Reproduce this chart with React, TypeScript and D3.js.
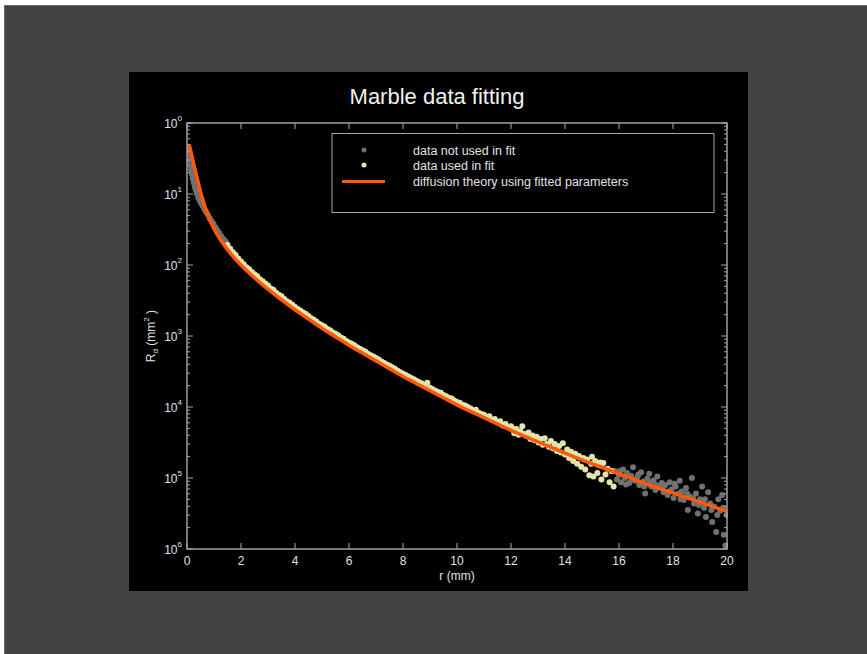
import React from "react";
import * as d3 from "d3";

// Radial distance (mm) and log10 of diffuse reflectance R_d (mm^-2)
const fitCurve: [number, number][] = [
  [0.08, -0.3], [0.2, -0.5], [0.3, -0.66], [0.4, -0.82], [0.5, -0.97], [0.6, -1.1],
  [0.7, -1.22], [0.8, -1.32], [0.9, -1.41], [1.0, -1.49], [1.2, -1.62], [1.4, -1.73],
  [1.6, -1.83], [1.8, -1.92], [2.0, -2.0], [2.5, -2.18], [3.0, -2.34], [3.5, -2.49],
  [4.0, -2.63], [4.5, -2.76], [5.0, -2.89], [5.5, -3.01], [6.0, -3.13], [6.5, -3.24],
  [7.0, -3.35], [7.5, -3.46], [8.0, -3.57], [8.5, -3.67], [9.0, -3.77], [9.5, -3.87],
  [10, -3.97], [11, -4.15], [12, -4.33], [13, -4.49], [14, -4.65], [15, -4.8],
  [16, -4.94], [17, -5.08], [18, -5.21], [19, -5.34], [20, -5.47],
];

const notUsedNear: [number, number][] = [
  [0.03, -0.36], [0.06, -0.44], [0.09, -0.52], [0.12, -0.6], [0.15, -0.66], [0.18, -0.72],
  [0.21, -0.78], [0.25, -0.84], [0.29, -0.9], [0.33, -0.95], [0.37, -1.0], [0.42, -1.05],
  [0.47, -1.09], [0.52, -1.13], [0.58, -1.17], [0.64, -1.21], [0.7, -1.25], [0.77, -1.29],
  [0.84, -1.34], [0.91, -1.38], [0.98, -1.42], [1.05, -1.47], [1.12, -1.51], [1.19, -1.55],
  [1.26, -1.59], [1.33, -1.63], [1.4, -1.66], [1.46, -1.69],
];

const notUsedFar: [number, number][] = [
  [15.85, -4.9], [15.92, -5.02], [16.0, -4.96], [16.08, -5.06], [16.15, -4.88], [16.22, -5.0],
  [16.3, -4.93], [16.38, -5.07], [16.45, -4.97], [16.52, -4.85], [16.6, -5.04], [16.68, -4.99],
  [16.75, -5.1], [16.82, -4.92], [16.9, -5.05], [16.97, -5.22], [17.05, -5.01], [17.12, -4.94],
  [17.2, -5.12], [17.28, -5.03], [17.35, -5.17], [17.42, -4.98], [17.5, -5.13], [17.58, -5.07],
  [17.65, -5.2], [17.72, -5.1], [17.8, -5.24], [17.88, -5.06], [17.95, -5.16], [18.02, -5.28],
  [18.1, -5.12], [18.18, -5.22], [18.25, -5.04], [18.32, -5.19], [18.4, -5.31], [18.48, -5.14],
  [18.55, -5.45], [18.62, -5.26], [18.7, -5.0], [18.78, -5.36], [18.85, -5.22], [18.92, -5.5],
  [19.0, -5.3], [19.08, -5.12], [19.15, -5.42], [19.22, -5.55], [19.3, -5.2], [19.38, -5.36],
  [19.45, -5.62], [19.52, -5.4], [19.6, -5.76], [19.68, -5.3], [19.75, -5.46], [19.82, -5.24],
  [19.88, -5.8], [19.94, -5.95], [19.98, -5.52],
  [16.04, -4.9], [16.26, -5.09], [16.48, -5.02], [16.72, -4.95], [16.94, -5.12], [17.16, -5.06],
  [17.38, -5.1], [17.62, -5.15], [17.84, -5.19], [18.06, -5.08], [18.28, -5.3], [18.52, -5.22],
  [18.74, -5.28], [18.96, -5.38], [19.18, -5.3], [19.42, -5.45], [19.64, -5.52], [19.86, -5.42],
];

const usedInFit: [number, number][] = [
  [1.5, -1.72], [1.6, -1.77], [1.7, -1.82], [1.8, -1.86], [1.9, -1.91], [2.0, -1.95],
  [2.1, -1.99], [2.2, -2.03], [2.3, -2.06], [2.4, -2.1], [2.5, -2.13], [2.6, -2.16],
  [2.7, -2.2], [2.8, -2.23], [2.9, -2.26], [3.0, -2.29], [3.1, -2.33], [3.2, -2.35],
  [3.3, -2.39], [3.4, -2.42], [3.5, -2.44], [3.6, -2.48], [3.7, -2.51], [3.8, -2.53],
  [3.9, -2.56], [4.0, -2.59], [4.1, -2.62], [4.2, -2.64], [4.3, -2.67], [4.4, -2.69],
  [4.5, -2.72], [4.6, -2.75], [4.7, -2.77], [4.8, -2.8], [4.9, -2.83], [5.0, -2.85],
  [5.1, -2.87], [5.2, -2.9], [5.3, -2.92], [5.4, -2.95], [5.5, -2.97], [5.6, -2.99],
  [5.7, -3.02], [5.8, -3.04], [5.9, -3.07], [6.0, -3.09], [6.1, -3.11], [6.2, -3.13],
  [6.3, -3.16], [6.4, -3.18], [6.5, -3.2], [6.6, -3.22], [6.7, -3.25], [6.8, -3.27],
  [6.9, -3.29], [7.0, -3.31], [7.1, -3.33], [7.2, -3.36], [7.3, -3.38], [7.4, -3.4],
  [7.5, -3.42], [7.6, -3.44], [7.7, -3.46], [7.8, -3.49], [7.9, -3.51], [8.0, -3.53],
  [8.1, -3.55], [8.2, -3.57], [8.3, -3.59], [8.4, -3.61], [8.5, -3.63], [8.6, -3.65],
  [8.7, -3.67], [8.8, -3.7], [8.9, -3.66], [9.0, -3.73], [9.1, -3.75], [9.2, -3.77],
  [9.3, -3.79], [9.4, -3.8], [9.5, -3.83], [9.6, -3.85], [9.7, -3.87], [9.8, -3.88],
  [9.9, -3.91], [10.0, -3.93], [10.1, -3.94], [10.2, -3.97], [10.3, -3.98], [10.4, -4.0],
  [10.5, -4.02], [10.6, -4.05], [10.7, -4.04], [10.8, -4.08], [10.9, -4.1], [11.0, -4.11],
  [11.1, -4.14], [11.2, -4.13], [11.3, -4.18], [11.4, -4.17], [11.5, -4.21], [11.6, -4.2],
  [11.7, -4.26], [11.8, -4.24], [11.9, -4.29], [12.0, -4.27],
  [12.05, -4.3], [12.12, -4.37], [12.2, -4.31], [12.28, -4.39], [12.35, -4.34], [12.42, -4.27],
  [12.5, -4.38], [12.58, -4.41], [12.65, -4.36], [12.72, -4.45], [12.8, -4.4], [12.88, -4.47],
  [12.95, -4.42], [13.02, -4.5], [13.1, -4.45], [13.18, -4.53], [13.25, -4.44], [13.32, -4.52],
  [13.4, -4.56], [13.48, -4.48], [13.55, -4.58], [13.62, -4.52], [13.7, -4.62], [13.78, -4.55],
  [13.85, -4.64], [13.92, -4.51], [14.0, -4.67], [14.08, -4.6], [14.15, -4.72], [14.22, -4.63],
  [14.3, -4.76], [14.38, -4.66], [14.45, -4.8], [14.52, -4.69], [14.6, -4.84], [14.68, -4.72],
  [14.75, -4.88], [14.82, -4.74], [14.9, -4.96], [14.97, -4.8], [15.0, -4.7], [15.05, -4.98],
  [15.12, -4.76], [15.2, -4.93], [15.28, -4.82], [15.3, -4.78], [15.35, -5.02], [15.42, -4.79],
  [15.5, -4.95], [15.58, -4.87], [15.65, -5.06], [15.72, -4.9], [15.8, -5.12],
];

const xTicks = [0, 2, 4, 6, 8, 10, 12, 14, 16, 18, 20];
const yDecades = [0, 1, 2, 3, 4, 5, 6];
const legendLabels = [
  "data not used in fit",
  "data used in fit",
  "diffusion theory using fitted parameters",
];

const W = 867;
const H = 654;
const plot = { left: 187, right: 727, top: 123, bottom: 549 };
const AXIS = "#a8a8a8";
const TEXT = "#e2e2e2";
const GRAY_DOT = "#717171";
const YELLOW_DOT = "#e4e4aa";
const ORANGE = "#ff5a0a";
const FONT = "'Liberation Sans', Arial, Helvetica, sans-serif";
const DOT_R = 3;

export default function App() {
  const x = d3.scaleLinear().domain([0, 20]).range([plot.left, plot.right]);
  const y = d3.scaleLog().domain([1, 1e-6]).range([plot.top, plot.bottom]);
  const yv = (lg: number) => y(Math.pow(10, lg));

  const line = d3
    .line<[number, number]>()
    .x((d) => x(d[0]))
    .y((d) => yv(d[1]))
    .curve(d3.curveMonotoneX);

  const minorTicks = y.ticks().filter((v) => {
    const e = Math.log10(v);
    return Math.abs(e - Math.round(e)) > 1e-6;
  });

  const majorLen = 6;
  const minorLen = 3;

  return (
    <svg
      width={W}
      height={H}
      style={{ position: "absolute", left: 0, top: 0 }}
      fontFamily={FONT}
    >
      <rect x={0} y={0} width={W} height={H} fill="#ffffff" />
      <rect x={4.5} y={5.5} width={W} height={H} fill="#434343" stroke="#6a6a6a" />
      <rect x={129} y={72} width={619} height={519} fill="#000000" />

      <text x={437} y={104} textAnchor="middle" fontSize={22} fill="#f2f2f2">
        Marble data fitting
      </text>

      <defs>
        <clipPath id="plotClip">
          <rect x={plot.left} y={plot.top - 2} width={plot.right - plot.left + 1} height={plot.bottom - plot.top + 4} />
        </clipPath>
      </defs>
      <g clipPath="url(#plotClip)">
        {notUsedNear.concat(notUsedFar).map((d, i) => (
          <circle key={"g" + i} cx={x(d[0])} cy={yv(d[1])} r={DOT_R} fill={GRAY_DOT} />
        ))}
        {usedInFit.map((d, i) => (
          <circle key={"y" + i} cx={x(d[0])} cy={yv(d[1])} r={DOT_R} fill={YELLOW_DOT} />
        ))}
        <path d={line(fitCurve) || ""} fill="none" stroke={ORANGE} strokeWidth={3.6} />
      </g>

      {/* frame */}
      <rect
        x={plot.left}
        y={plot.top}
        width={plot.right - plot.left}
        height={plot.bottom - plot.top}
        fill="none"
        stroke={AXIS}
        strokeWidth={1.4}
      />

      {/* x ticks, drawn inward on bottom and top */}
      {xTicks.map((t) => (
        <g key={"xt" + t}>
          <line x1={x(t)} x2={x(t)} y1={plot.bottom} y2={plot.bottom - majorLen} stroke={AXIS} />
          <line x1={x(t)} x2={x(t)} y1={plot.top} y2={plot.top + majorLen} stroke={AXIS} />
          <text x={x(t)} y={565} textAnchor="middle" fontSize={12} fill={TEXT}>
            {t}
          </text>
        </g>
      ))}

      {/* y ticks, inward on left and right */}
      {yDecades.map((k) => {
        const py = y(Math.pow(10, -k));
        return (
          <g key={"yt" + k}>
            <line x1={plot.left} x2={plot.left + majorLen} y1={py} y2={py} stroke={AXIS} />
            <line x1={plot.right} x2={plot.right - majorLen} y1={py} y2={py} stroke={AXIS} />
            <text x={182} y={py + 5} textAnchor="end" fontSize={12} fill={TEXT}>
              10
              <tspan dy={-7} fontSize={8}>
                {k}
              </tspan>
            </text>
          </g>
        );
      })}
      {minorTicks.map((v, i) => (
        <g key={"ym" + i}>
          <line x1={plot.left} x2={plot.left + minorLen} y1={y(v)} y2={y(v)} stroke={AXIS} />
          <line x1={plot.right} x2={plot.right - minorLen} y1={y(v)} y2={y(v)} stroke={AXIS} />
        </g>
      ))}

      <text x={457} y={580} textAnchor="middle" fontSize={12} fill={TEXT}>
        r (mm)
      </text>
      <text
        transform={`translate(155, 336) rotate(-90)`}
        textAnchor="middle"
        fontSize={12}
        fill={TEXT}
      >
        R<tspan dy={3} fontSize={8}>d</tspan>
        <tspan dy={-3}> (mm</tspan>
        <tspan dy={-6} fontSize={8}>2</tspan>
        <tspan dy={6}> )</tspan>
      </text>

      {/* legend */}
      <rect x={332} y={133.5} width={382} height={79} fill="#000" stroke={AXIS} strokeWidth={1} />
      <circle cx={364} cy={150} r={2.5} fill={GRAY_DOT} />
      <circle cx={364} cy={165} r={2.5} fill={YELLOW_DOT} />
      <line x1={342} x2={385} y1={181.5} y2={181.5} stroke={ORANGE} strokeWidth={3} />
      {legendLabels.map((l, i) => (
        <text key={l} x={413} y={154.5 + i * 15.5} fontSize={12.5} fill={TEXT}>
          {l}
        </text>
      ))}
    </svg>
  );
}
